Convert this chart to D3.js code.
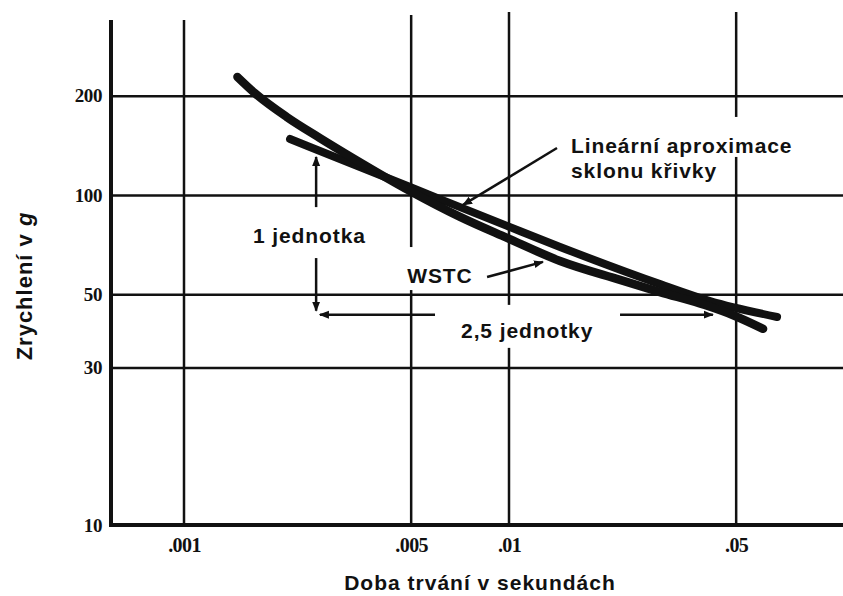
<!DOCTYPE html>
<html>
<head>
<meta charset="utf-8">
<script src="https://cdn.jsdelivr.net/npm/d3@7"></script>
<style>
  body { margin: 0; background: #fff; }
</style>
</head>
<body>
<div id="vis"></div>
<script>
// axis ticks (log-log paper)
var durTicks = [0.001, 0.005, 0.01, 0.05]
var durLabels = [".001", ".005", ".01", ".05"]
var accTicks = [10, 30, 50, 100, 200]
var accLabels = ["10", "30", "50", "100", "200"]

// WSTC curve (s, g)
var wstcDur = [0.00146, 0.00165, 0.00207, 0.00262, 0.00331, 0.00496, 0.00707, 0.00986, 0.01436, 0.02196, 0.02915, 0.04009, 0.0496, 0.0605]
var wstcAcc = [227.8, 203.7, 172.4, 148.8, 129.4, 102.8, 85.8, 74.1, 63.1, 55.3, 50.8, 46.4, 43.0, 39.3]

// linear approximation of the slope
var approxDur = [0.00212, 0.00496, 0.00986, 0.01436, 0.02915, 0.04155, 0.0668]
var approxAcc = [147.8, 105.7, 80.6, 69.6, 53.7, 47.7, 42.7]

// annotation arrows (data units)
var unitX = 0.00255          // vertical "1 jednotka" arrow
var unitTop = [130.4, 91.9]  // upper piece: head, tail
var unitLow = [64.4, 44.6]   // lower piece: tail, head
var spanY = 43.4             // horizontal "2,5 jednotky" arrow
var spanLeft = [0.00592, 0.00262]  // tail, head
var spanRight = [0.02196, 0.0424]  // tail, head
var leaderApprox = [[0.01405, 138.8], [0.00722, 93.3]]
var leaderWstc = [[0.00856, 56.4], [0.01272, 62.7]]

var w = 843
var h = 596
var left = 111, bottom = 525, right = 843
var ink = "#111"

var svg = d3.select("#vis")
            .append("svg")
            .attr("width", w)
            .attr("height", h)
            .style("background-color", "#fff")

// 325 px per decade across, 330 px per decade up
const xScale = d3.scaleLog()
            .domain([0.001, 0.1])
            .range([184, 834])
const yScale = d3.scaleLog()
            .domain([10, 100])
            .range([525, 195])

var defs = svg.append("defs")
defs.append("marker")
    .attr("id", "head")
    .attr("viewBox", "0 0 10 10")
    .attr("refX", 9).attr("refY", 5)
    .attr("markerWidth", 4).attr("markerHeight", 4)
    .attr("orient", "auto")
    .attr("markerUnits", "strokeWidth")
  .append("path")
    .attr("d", "M0,1 L10,5 L0,9 Z")
    .attr("fill", ink)

var tickFont = "'Liberation Serif', serif"

// horizontal grid + y labels
svg.append("g")
   .attr("transform", `translate(${left},0)`)
   .call(d3.axisLeft(yScale)
           .tickValues(accTicks)
           .tickFormat((d, i) => accLabels[i])
           .tickSize(-(right - left))
           .tickPadding(9))
   .call(g => g.select(".domain").remove())
   .call(g => g.selectAll("line").attr("stroke", ink).attr("stroke-width", 2.5))
   .call(g => g.selectAll("text")
               .attr("fill", ink)
               .style("font-family", tickFont)
               .style("font-weight", "bold")
               .style("font-size", "19px")
               .style("letter-spacing", "-0.4px"))

// vertical grid lines (tops differ a little on the old paper)
var gridTop = [20, 15, 12, 12]
svg.append("g")
   .selectAll("line")
   .data(durTicks)
   .join("line")
   .attr("x1", d => xScale(d))
   .attr("x2", d => xScale(d))
   .attr("y1", (d, i) => gridTop[i])
   .attr("y2", bottom)
   .attr("stroke", ink)
   .attr("stroke-width", 2.5)

// x labels
svg.append("g")
   .attr("transform", `translate(0,${bottom})`)
   .call(d3.axisBottom(xScale)
           .tickValues(durTicks)
           .tickFormat((d, i) => durLabels[i])
           .tickSize(0)
           .tickPadding(27))
   .call(g => g.select(".domain").remove())
   .call(g => g.selectAll("line").remove())
   .call(g => g.selectAll("text")
               .attr("dy", "0")
               .attr("fill", ink)
               .style("font-family", tickFont)
               .style("font-weight", "bold")
               .style("font-size", "20px")
               .style("letter-spacing", "-0.6px"))

// white patches that break the grid behind the labels
var gaps = svg.append("g")

// thick axis lines
svg.append("line")
   .attr("x1", left).attr("x2", left)
   .attr("y1", 20).attr("y2", bottom + 2)
   .attr("stroke", ink).attr("stroke-width", 4)
svg.append("line")
   .attr("x1", left - 2).attr("x2", right)
   .attr("y1", bottom).attr("y2", bottom)
   .attr("stroke", ink).attr("stroke-width", 4)

var line = d3.line()
             .x(d => xScale(d[0]))
             .y(d => yScale(d[1]))
             .curve(d3.curveMonotoneX)

svg.append("path")
   .attr("d", line(approxDur.map((d, i) => [d, approxAcc[i]])))
   .attr("fill", "none")
   .attr("stroke", ink)
   .attr("stroke-width", 8)
   .attr("stroke-linecap", "round")

svg.append("path")
   .attr("d", line(wstcDur.map((d, i) => [d, wstcAcc[i]])))
   .attr("fill", "none")
   .attr("stroke", ink)
   .attr("stroke-width", 8.5)
   .attr("stroke-linecap", "round")

function arrow(p0, p1, sw) {
  svg.append("line")
     .attr("x1", xScale(p0[0])).attr("y1", yScale(p0[1]))
     .attr("x2", xScale(p1[0])).attr("y2", yScale(p1[1]))
     .attr("stroke", ink)
     .attr("stroke-width", sw || 2.5)
     .attr("marker-end", "url(#head)")
}

arrow([unitX, unitTop[1]], [unitX, unitTop[0]])
arrow([unitX, unitLow[0]], [unitX, unitLow[1]])
arrow([spanLeft[0], spanY], [spanLeft[1], spanY])
arrow([spanRight[0], spanY], [spanRight[1], spanY])
arrow(leaderApprox[0], leaderApprox[1])
arrow(leaderWstc[0], leaderWstc[1])

var labelFont = "'Liberation Sans', Arial, sans-serif"

function label(txt, d, a, pad) {
  var t = svg.append("text")
     .attr("x", xScale(d))
     .attr("y", yScale(a))
     .attr("fill", ink)
     .style("font-family", labelFont)
     .style("font-weight", "bold")
     .style("font-size", "21px")
     .style("letter-spacing", "0.9px")
     .text(txt)
  if (pad) {
    var b = t.node().getBBox()
    gaps.append("rect")
        .attr("x", b.x - pad[0]).attr("y", b.y - pad[1])
        .attr("width", b.width + 2 * pad[0])
        .attr("height", b.height + pad[1] + pad[2])
        .attr("fill", "#fff")
  }
  return t
}

label("Lineární aproximace", 0.01552, 134.1, [6, 17, 0])
label("sklonu křivky", 0.01552, 112.6, [6, 2, 10])
label("WSTC", 0.00486, 54.1, [6, 17, 3])
label("1 jednotka", 0.00163, 71.5)
label("2,5 jednotky", 0.00712, 36.9, [6, 14, 6])

// axis titles
svg.append("text")
   .attr("x", 480)
   .attr("y", 590)
   .attr("text-anchor", "middle")
   .attr("fill", ink)
   .style("font-family", labelFont)
   .style("font-weight", "bold")
   .style("font-size", "21px")
   .style("letter-spacing", "1px")
   .text("Doba trvání v sekundách")

var yt = svg.append("text")
   .attr("transform", "translate(32,286) rotate(-90)")
   .attr("text-anchor", "middle")
   .attr("fill", ink)
   .style("font-family", labelFont)
   .style("font-weight", "bold")
   .style("font-size", "22px")
   .style("letter-spacing", "1px")
yt.append("tspan").text("Zrychlení v ")
yt.append("tspan").style("font-style", "italic").text("g")
</script>
</body>
</html>
